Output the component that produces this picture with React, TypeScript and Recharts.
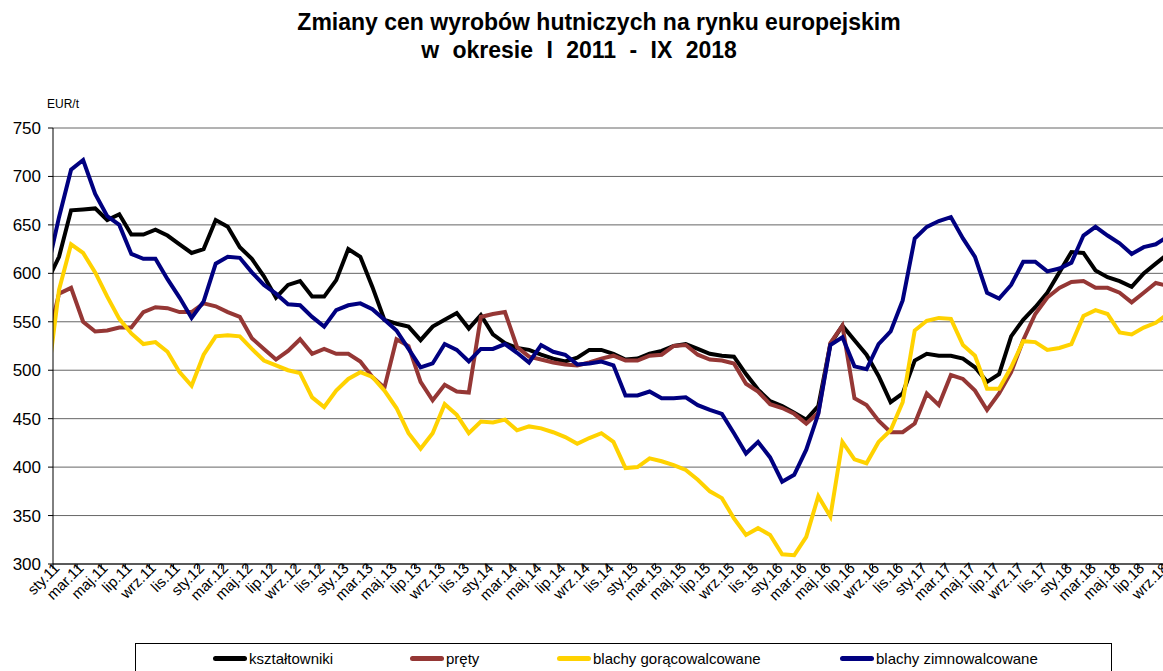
import React from "react";
import { LineChart, Line, XAxis, YAxis, CartesianGrid } from "recharts";

// monthly prices, EUR/t — first value is XII 2010 (only its tail is visible at the axis)
const ksztaltowniki = [
  591, 617, 665, 666, 667, 655, 661, 640, 640, 645, 639, 630, 621,
  625, 655, 648, 627, 615, 597, 575, 588, 592, 576, 576, 593,
  625, 617, 586, 552, 548, 545, 531, 545, 552, 559, 543, 557,
  537, 528, 523, 521, 516, 512, 509, 513, 521, 521, 517, 511,
  512, 517, 520, 525, 527, 522, 517, 515, 514, 496, 480, 468,
  463, 456, 449, 463, 527, 546, 531, 516, 494, 467, 476, 510,
  517, 515, 515, 512, 503, 488, 496, 535, 552, 565, 580, 601,
  622, 621, 603, 596, 592, 586, 600, 610, 620,
];
const prety = [
  527, 579, 585, 550, 540, 541, 544, 544, 560, 565, 564, 560, 560,
  569, 566, 560, 555, 533, 522, 511, 520, 532, 517, 522, 517,
  517, 509, 493, 482, 532, 525, 488, 469, 485, 478, 477, 555,
  558, 560, 524, 514, 511, 508, 506, 505, 508, 512, 515, 510,
  510, 515, 516, 525, 526, 516, 511, 510, 507, 486, 478, 465,
  461, 455, 445, 456, 528, 546, 471, 464, 448, 436, 436, 445,
  476, 464, 495, 491, 479, 459, 476, 498, 531, 558, 575, 585,
  591, 592, 585, 585, 580, 570, 580, 590, 587,
];
const blachyGoraco = [
  485, 583, 630, 621, 601, 576, 553, 538, 527, 529, 519, 498, 484,
  516, 535, 536, 535, 522, 510, 505, 500, 497, 472, 462, 479,
  491, 498, 493, 479, 461, 435, 419, 435, 465, 454, 435, 447,
  446, 449, 438, 442, 440, 436, 431, 424, 430, 435, 426, 399,
  400, 409, 406, 402, 397, 387, 375, 368, 347, 330, 337, 330,
  310, 309, 328, 370, 349, 426, 408, 404, 426, 438, 467, 541,
  551, 554, 553, 526, 515, 481, 481, 503, 530, 529, 521, 523,
  527, 556, 562, 558, 539, 537, 544, 549, 558,
];
const blachyZimno = [
  602, 658, 707, 717, 682, 659, 650, 620, 615, 615, 594, 575, 554,
  571, 610, 617, 616, 601, 588, 579, 568, 567, 555, 545, 562,
  567, 569, 563, 552, 541, 522, 503, 507, 527, 521, 509, 522,
  522, 527, 518, 508, 526, 519, 516, 506, 507, 509, 505, 474,
  474, 478, 471, 471, 472, 464, 459, 455, 435, 414, 426, 410,
  385, 392, 418, 455, 526, 534, 504, 501, 527, 540, 572, 636,
  648, 654, 658, 636, 617, 580, 574, 588, 612, 612, 602, 605,
  611, 639, 648, 639, 631, 620, 627, 630, 638,
];

const tickLabels = [
  "sty.11", "mar.11", "maj.11", "lip.11", "wrz.11", "lis.11",
  "sty.12", "mar.12", "maj.12", "lip.12", "wrz.12", "lis.12",
  "sty.13", "mar.13", "maj.13", "lip.13", "wrz.13", "lis.13",
  "sty.14", "mar.14", "maj.14", "lip.14", "wrz.14", "lis.14",
  "sty.15", "mar.15", "maj.15", "lip.15", "wrz.15", "lis.15",
  "sty.16", "mar.16", "maj.16", "lip.16", "wrz.16", "lis.16",
  "sty.17", "mar.17", "maj.17", "lip.17", "wrz.17", "lis.17",
  "sty.18", "mar.18", "maj.18", "lip.18", "wrz.18",
];
const yTicks = [300, 350, 400, 450, 500, 550, 600, 650, 700, 750];

const series = [
  { key: "ksz", name: "kształtowniki", color: "#000000" },
  { key: "pre", name: "pręty", color: "#953735" },
  { key: "gor", name: "blachy gorącowalcowane", color: "#FFD200" },
  { key: "zim", name: "blachy zimnowalcowane", color: "#000080" },
];

// index -1 = XII 2010, 0 = I 2011 ...
const data = ksztaltowniki.map((v, i) => ({
  k: i - 1,
  ksz: v,
  pre: prety[i],
  gor: blachyGoraco[i],
  zim: blachyZimno[i],
}));

// tick marks sit on the month boundaries, every second month
const xTicks = tickLabels.map((_, j) => -0.5 + 2 * j);

const FONT = "'Liberation Sans', Arial, sans-serif";

const XTick = (props: any) => {
  const { x, y, payload } = props;
  const label = tickLabels[Math.round((payload.value + 0.5) / 2)];
  const ax = x + 7.5;
  const ay = y - 2;
  return (
    <text
      x={ax}
      y={ay}
      transform={`rotate(-45, ${ax}, ${ay})`}
      textAnchor="end"
      fontSize={15}
      fontFamily={FONT}
      fill="#000"
    >
      {label}
    </text>
  );
};

const legendPos = [213, 410, 557, 840];

export default function App() {
  return (
    <div style={{ position: "absolute", left: 0, top: 0, width: 1163, height: 671, overflow: "hidden", background: "#fff", fontFamily: FONT }}>
      <div style={{ position: "absolute", left: 0, top: 8, width: 1198, textAlign: "center", fontWeight: "bold", fontSize: 23, lineHeight: "28px" }}>
        Zmiany cen wyrobów hutniczych na rynku europejskim
      </div>
      <div style={{ position: "absolute", left: 0, top: 36, width: 1158, textAlign: "center", fontWeight: "bold", fontSize: 23, lineHeight: "28px", wordSpacing: 7 }}>
        w okresie I 2011 - IX 2018
      </div>
      <div style={{ position: "absolute", left: 47, top: 97, fontSize: 12 }}>EUR/t</div>

      <LineChart
        width={1163}
        height={671}
        data={data}
        margin={{ top: 128, right: 0, bottom: 47, left: 0 }}
      >
        <CartesianGrid horizontal vertical={false} stroke="#666" strokeWidth={1} />
        <XAxis
          type="number"
          dataKey="k"
          domain={[-0.5, 91.6]}
          allowDataOverflow
          ticks={xTicks}
          interval={0}
          height={60}
          tick={<XTick />}
          tickSize={5}
          axisLine={{ stroke: "#000" }}
          tickLine={{ stroke: "#000" }}
        />
        <YAxis
          domain={[300, 750]}
          ticks={yTicks}
          interval={0}
          width={53}
          tickSize={5}
          tickMargin={7}
          axisLine={{ stroke: "#000" }}
          tickLine={{ stroke: "#000" }}
          tick={{ fontSize: 17, fill: "#000", fontFamily: FONT }}
        />
        {series.map((s) => (
          <Line
            key={s.key}
            type="linear"
            dataKey={s.key}
            name={s.name}
            stroke={s.color}
            strokeWidth={4}
            dot={false}
            activeDot={false}
            isAnimationActive={false}
          />
        ))}
      </LineChart>

      <div style={{ position: "absolute", left: 135, top: 643, width: 977, height: 40, border: "1px solid #000", boxSizing: "border-box", background: "#fff" }}>
        {series.map((s, i) => (
          <div key={s.key} style={{ position: "absolute", left: legendPos[i] - 136, top: 4, height: 20, display: "flex", alignItems: "center", whiteSpace: "nowrap" }}>
            <span style={{ display: "inline-block", width: 34, height: 5, borderRadius: 3, background: s.color, marginRight: 2 }} />
            <span style={{ fontSize: 15 }}>{s.name}</span>
          </div>
        ))}
      </div>
    </div>
  );
}
